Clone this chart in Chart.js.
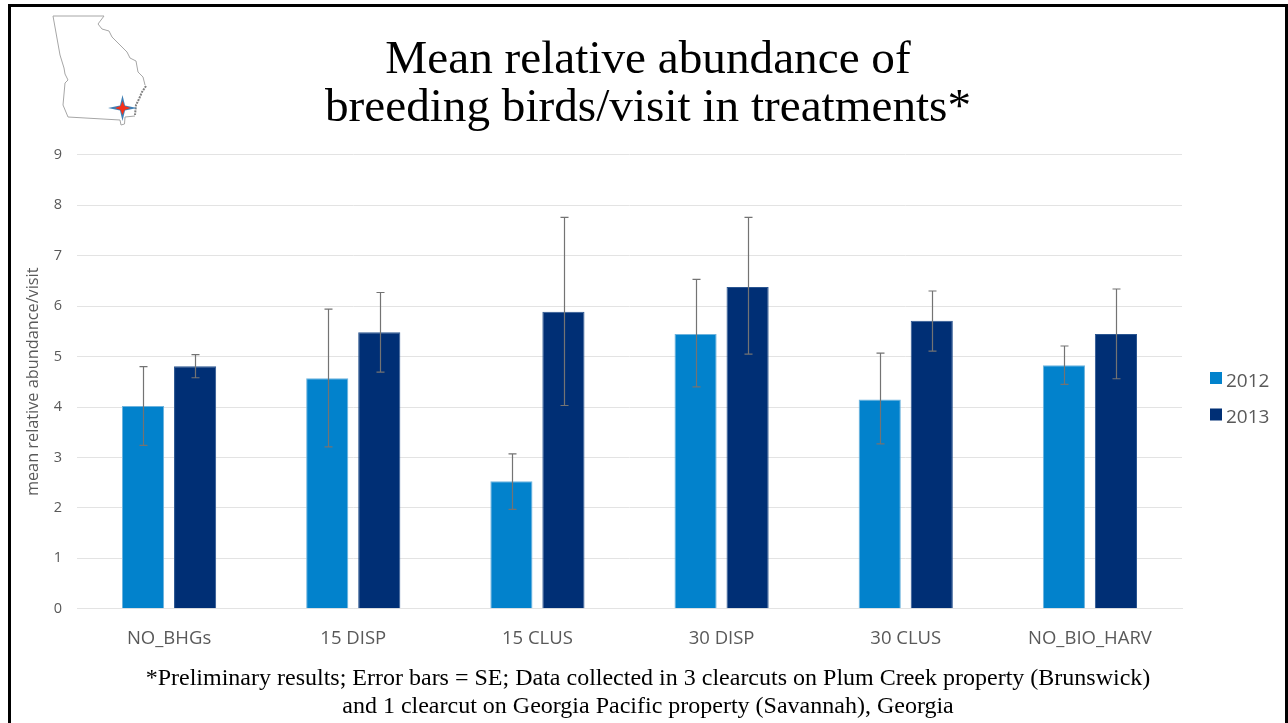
<!DOCTYPE html>
<html><head><meta charset="utf-8">
<style>
html,body{margin:0;padding:0;background:#fff;width:1288px;height:723px;overflow:hidden}
#frame{position:absolute;left:8px;top:4px;width:1274px;height:725px;border:3px solid #000;box-sizing:content-box}
#wrap{position:absolute;left:11px;top:7px;width:1274px;height:716px}
#map{position:absolute;left:0;top:0}
</style>
<script src="https://cdn.jsdelivr.net/npm/chart.js@4/dist/chart.umd.min.js"></script>
</head><body>
<div id="frame"></div>
<div id="wrap"><canvas id="c" width="1274" height="716"></canvas></div>
<svg id="map" width="160" height="135">
<path d="M53 16 L104 16 L98 24 L102 29 L109 31 L112 37 L120 45 L127 52 L130 58 L136 61 L138 72 L143 77 L145 85 M135 116 L125 117 L124.500 124 L121 125 L120 120 L68 117 L63 105 L65 83 L68 80 L65 74 L64 68 L60 55 L53 16" fill="none" stroke="#a6a6a6" stroke-width="1"/>
<path d="M146 86 L142 92 L139 99 L136 105 L135 115" fill="none" stroke="#808080" stroke-width="2" stroke-dasharray="2 1"/>
<path d="M122.500 95 L125 105.500 L137 108 L125 110.500 L122.500 121 L120 110.500 L108 108 L120 105.500 Z" fill="#3f7fb4"/>
<path d="M122.500 101 L124.500 106 L130.500 108 L124.500 110 L122.500 115 L120.500 110 L115 108 L120.500 106 Z" fill="#f5301a"/>
</svg>
<script>
const categories = ["NO_BHGs","15 DISP","15 CLUS","30 DISP","30 CLUS","NO_BIO_HARV"];
const means2012 = [4.02,4.57,2.53,5.45,4.15,4.83];
const means2013 = [4.81,5.48,5.89,6.38,5.71,5.45];
const upper2012 = [4.80,5.94,3.07,6.53,5.07,5.21];
const lower2012 = [3.24,3.21,1.97,4.40,3.27,4.45];
const upper2013 = [5.04,6.27,7.76,7.76,6.30,6.34];
const lower2013 = [4.58,4.69,4.03,5.05,5.11,4.56];
const titleLines = ["Mean relative abundance of","breeding birds/visit in treatments*"];
const noteLines = ["*Preliminary results; Error bars = SE; Data collected in 3 clearcuts on Plum Creek property (Brunswick)","and 1 clearcut on Georgia Pacific property (Savannah), Georgia"];
const sans = '"Open Sans"';
const serif = '"Liberation Serif"';
const errorBars = {
  id:'errorBars',
  afterDatasetsDraw(chart){
    const ctx=chart.ctx, y=chart.scales.y;
    chart.data.datasets.forEach((ds,i)=>{
      chart.getDatasetMeta(i).data.forEach((bar,j)=>{
        const t=y.getPixelForValue(ds.errUpper[j]), b=y.getPixelForValue(ds.errLower[j]);
        const x=Math.round(bar.x+.3)+.5;
        ctx.save();ctx.strokeStyle='#737373';ctx.lineWidth=1.2;ctx.beginPath();
        ctx.moveTo(x,t);ctx.lineTo(x,b);
        ctx.moveTo(x-4,t);ctx.lineTo(x+4,t);
        ctx.moveTo(x-4,b);ctx.lineTo(x+4,b);
        ctx.stroke();ctx.restore();
      });
    });
  }
};
const sideLegend = {
  id:'sideLegend',
  beforeInit(chart){
    Chart.layouts.addBox(chart,{
      position:'right',weight:0,fullSize:false,width:103,height:0,options:{},
      isHorizontal(){return false;},
      update(w,h){this.width=103;this.height=h;return {w:103,h};},
      draw(){}
    });
  },
  afterDraw(chart){
    const ctx=chart.ctx, a=chart.chartArea;
    chart.data.datasets.forEach((ds,i)=>{
      const x=a.right+28, y=365+i*36.5;
      ctx.save();
      ctx.fillStyle=ds.backgroundColor;ctx.fillRect(x,y,12,12);
      ctx.fillStyle='#595959';ctx.font='19px '+sans;ctx.textBaseline='middle';
      ctx.fillText(ds.label,x+16,y+9.5);
      ctx.restore();
    });
  }
};
new Chart(document.getElementById('c'),{
  type:'bar',
  data:{labels:categories,datasets:[
    {label:'2012',data:means2012,errUpper:upper2012,errLower:lower2012,backgroundColor:'#0282cc',borderColor:'#6db3dd',borderWidth:{left:1,right:1,top:1,bottom:0},borderSkipped:false,categoryPercentage:0.565,barPercentage:0.81},
    {label:'2013',data:means2013,errUpper:upper2013,errLower:lower2013,backgroundColor:'#002f75',borderColor:'#2a5590',borderWidth:{left:1,right:1,top:1,bottom:0},borderSkipped:false,categoryPercentage:0.565,barPercentage:0.81}
  ]},
  options:{
    responsive:false,animation:false,
    layout:{padding:0},
    plugins:{
      title:{display:true,text:titleLines,color:'#000',font:{family:serif,size:47.2,weight:'normal',lineHeight:1.015},padding:{top:30,bottom:22}},
      subtitle:{display:true,position:'bottom',text:noteLines,color:'#000',font:{family:serif,size:24,weight:'normal',lineHeight:1.167},padding:{top:4,bottom:2}},
      legend:{display:false},
      tooltip:{enabled:false}
    },
    scales:{
      x:{grid:{display:false},border:{color:'#e3e3e3'},ticks:{color:'#595959',font:{family:sans,size:18.5},padding:11,maxRotation:0}},
      y:{min:0,max:9,grid:{color:'#e3e3e3',drawTicks:false},border:{display:false},
         afterFit(scale){scale.width=66;},
         ticks:{stepSize:1,color:'#595959',font:{family:sans,size:14.5},padding:15},
         title:{display:true,text:'mean relative abundance/visit',color:'#595959',font:{family:sans,size:16.3},padding:{top:13,bottom:0}}}
    }
  },
  plugins:[errorBars,sideLegend]
});
</script>
</body></html>
